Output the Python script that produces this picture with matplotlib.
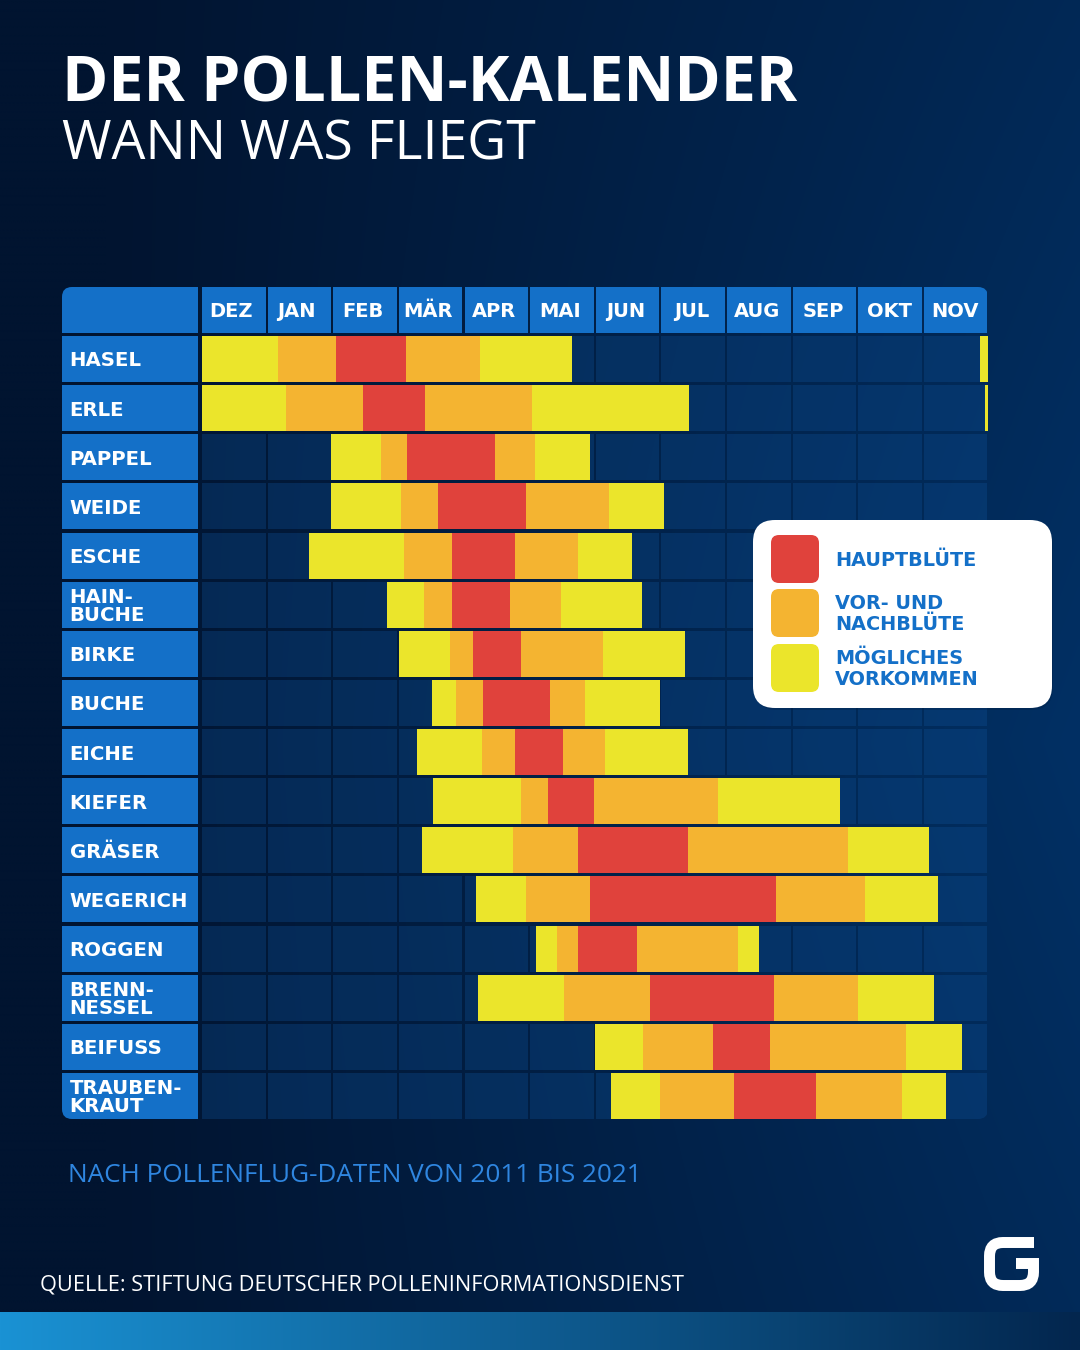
import matplotlib
matplotlib.use("Agg")
import matplotlib.pyplot as plt
import numpy as np
from matplotlib.patches import FancyBboxPatch, PathPatch
from matplotlib.path import Path as MplPath

W, H = 1080, 1350

months = ["DEZ", "JAN", "FEB", "MÄR", "APR", "MAI", "JUN", "JUL", "AUG", "SEP", "OKT", "NOV"]
plants = ["HASEL", "ERLE", "PAPPEL", "WEIDE", "ESCHE", "HAIN-\nBUCHE", "BIRKE", "BUCHE", "EICHE",
          "KIEFER", "GRÄSER", "WEGERICH", "ROGGEN", "BRENN-\nNESSEL", "BEIFUSS", "TRAUBEN-\nKRAUT"]

# season edges in months since start of december:
# start, vorbluete, hauptbluete, nachbluete, auslauf, end
hasel = [0.00, 1.16, 2.05, 3.11, 4.24, 5.65]
erle = [0.00, 1.28, 2.46, 3.40, 5.04, 7.44]
pappel = [1.97, 2.73, 3.13, 4.47, 5.08, 5.92]
weide = [1.97, 3.04, 3.60, 4.95, 6.21, 7.05]
esche = [1.63, 3.08, 3.82, 4.78, 5.74, 6.56]
hainbuche = [2.82, 3.39, 3.82, 4.70, 5.48, 6.72]
birke = [3.01, 3.79, 4.14, 4.87, 6.12, 7.37]
buche = [3.51, 3.88, 4.29, 5.31, 5.85, 6.99]
eiche = [3.28, 4.27, 4.78, 5.51, 6.15, 7.42]
kiefer = [3.53, 4.87, 5.28, 5.98, 7.88, 9.74]
graeser = [3.36, 4.75, 5.74, 7.42, 9.86, 11.10]
wegerich = [4.18, 4.95, 5.92, 8.76, 10.12, 11.24]
roggen = [5.10, 5.42, 5.74, 6.64, 8.18, 8.50]
brennnessel = [4.21, 5.53, 6.84, 8.73, 10.02, 11.18]
beifuss = [6.00, 6.73, 7.80, 8.67, 10.75, 11.60]
traubenkraut = [6.24, 6.99, 8.12, 9.37, 10.69, 11.36]
seasons = [hasel, erle, pappel, weide, esche, hainbuche, birke, buche, eiche,
           kiefer, graeser, wegerich, roggen, brennnessel, beifuss, traubenkraut]

# hasel and erle already start again at the end of november
early_start = {0: 11.88, 1: 11.95}

RED = "#e0423c"
ORANGE = "#f4b431"
YELLOW = "#ebe52b"
BLUE = "#1470c8"
phase_colors = [YELLOW, ORANGE, RED, ORANGE, YELLOW]
legend_labels = ["HAUPTBLÜTE", "VOR- UND\nNACHBLÜTE", "MÖGLICHES\nVORKOMMEN"]
legend_colors = [RED, ORANGE, YELLOW]

fig = plt.figure(figsize=(W / 100, H / 100), dpi=100)

# background in pixel coordinates
bg = fig.add_axes([0, 0, 1, 1], zorder=0)
xx, yy = np.meshgrid(np.linspace(0, 1, 270), np.linspace(0, 1, 340))
glow = np.clip(xx - 0.1, 0, 1) / 0.9 * (1 - 0.5 * np.abs(yy - 0.55))
dark = np.array([1, 20, 48]) / 255
light = np.array([2, 48, 100]) / 255
grad = dark[None, None, :] + (light - dark)[None, None, :] * glow[..., None]
bg.imshow(grad, extent=[0, W, H, 0], aspect="auto", interpolation="bilinear")

t = np.linspace(0, 1, 400)
bar_left = np.array([26, 146, 212]) / 255
bar_right = np.array([3, 38, 78]) / 255
bar_rgb = bar_left + (bar_right - bar_left) * t[:, None]
bg.imshow(bar_rgb[None, :, :], extent=[0, W, 1350, 1312], aspect="auto")
bg.set_xlim(0, W)
bg.set_ylim(H, 0)
bg.axis("off")

# chart axes: x in months, y in rows
X0, MONTH_W = 202, 65.5
Y0, ROW_H = 359, 49.13
ax = fig.add_axes([X0 / W, 1 - (Y0 + 15.5 * ROW_H) / H, 12 * MONTH_W / W, 16 * ROW_H / H], zorder=1)
ax.set_xlim(0, 12)
ax.set_ylim(15.5, -0.5)
ax.axis("off")

clip = FancyBboxPatch((62, 287), 926, 832, boxstyle="round,pad=0,rounding_size=10",
                      transform=bg.transData, fc="none", ec="none")
bg.add_patch(clip)

bar_h = 46 / ROW_H
label_left = (62 - X0) / MONTH_W
label_w = 136 / MONTH_W
cell_left = np.arange(12) * 1.002
cell_w = 0.97
LABEL_FONT = "DejaVu Sans"
artists = []

artists += ax.barh([-1] * 12, [cell_w] * 12, bar_h, left=cell_left, color=BLUE)
artists += ax.barh([-1], label_w, bar_h, left=label_left, color=BLUE)
for i, m in enumerate(months):
    ax.text(i * 1.005 + 0.44, -1.0, m, color="white", fontsize=14, fontweight="bold", family=LABEL_FONT,
            ha="center", va="center_baseline")

for r, (name, edges) in enumerate(zip(plants, seasons)):
    artists += ax.barh([r], label_w, bar_h, left=label_left, color=BLUE)
    ax.text(label_left + 7.5 / MONTH_W, r, name, color="white", fontsize=14.2, fontweight="bold",
            family=LABEL_FONT, ha="left", va="center_baseline", linespacing=0.95)
    # empty month cells
    artists += ax.barh([r] * 12, [cell_w] * 12, bar_h, left=cell_left, color="#0f4f94", alpha=0.34)
    lefts = np.array(edges[:-1])
    widths = np.diff(edges)
    artists += ax.barh([r] * 5, widths, bar_h, left=lefts, color=phase_colors)
    if r in early_start:
        artists += ax.barh([r], 12 - early_start[r], bar_h, left=early_start[r], color=YELLOW)

# label column and header sit outside the axes box, so clip only to the rounded frame
for a in artists:
    a.set_clip_box(fig.bbox)
    a.set_clip_path(clip)

# texts and legend on top
top = fig.add_axes([0, 0, 1, 1], zorder=2)
top.set_xlim(0, W)
top.set_ylim(H, 0)
top.axis("off")

top.text(62, 102, "DER POLLEN-KALENDER", color="white", fontsize=45.2, fontweight="bold",
         family="Open Sans", ha="left", va="baseline")
top.text(62, 160, "WANN WAS FLIEGT", color="white", fontsize=38.6, family="Open Sans",
         ha="left", va="baseline")
top.text(68, 1182, "NACH POLLENFLUG-DATEN VON 2011 BIS 2021", color="#2f86e0", fontsize=18.85,
         family="Open Sans", ha="left", va="baseline")
top.text(40, 1291, "QUELLE: STIFTUNG DEUTSCHER POLLENINFORMATIONSDIENST", color="white", fontsize=15.7,
         family="Open Sans", ha="left", va="baseline")

# legend box
top.add_patch(FancyBboxPatch((755, 523), 298, 187, boxstyle="round,pad=0,rounding_size=22",
                             fc="#001a3a", ec="none", alpha=0.25))
top.add_patch(FancyBboxPatch((753, 520), 299, 188, boxstyle="round,pad=0,rounding_size=22",
                             fc="white", ec="none"))
swatch_tops = [535, 589, 644]
text_y = [558, 611, 666]
for c, y, ty, lab in zip(legend_colors, swatch_tops, text_y, legend_labels):
    top.add_patch(FancyBboxPatch((771, y), 48, 48, boxstyle="round,pad=0,rounding_size=8", fc=c, ec="none"))
    top.text(835, ty, lab, color=BLUE, fontsize=13.9, fontweight="bold", family=LABEL_FONT, ha="left",
             va="center_baseline", linespacing=1.16)

# G logo
g_path = MplPath(
    [(1034, 1242.5), (1003, 1242.5), (989.5, 1242.5), (989.5, 1256), (989.5, 1272), (989.5, 1285.5),
     (1003, 1285.5), (1020, 1285.5), (1033.5, 1285.5), (1033.5, 1272), (1033.5, 1263.5), (1016, 1263.5)],
    [MplPath.MOVETO, MplPath.LINETO, MplPath.CURVE3, MplPath.CURVE3, MplPath.LINETO, MplPath.CURVE3,
     MplPath.CURVE3, MplPath.LINETO, MplPath.CURVE3, MplPath.CURVE3, MplPath.LINETO, MplPath.LINETO])
top.add_patch(PathPatch(g_path, fc="none", ec="white", lw=7.9, capstyle="butt", joinstyle="miter"))

fig.savefig("out.png", dpi=100)
